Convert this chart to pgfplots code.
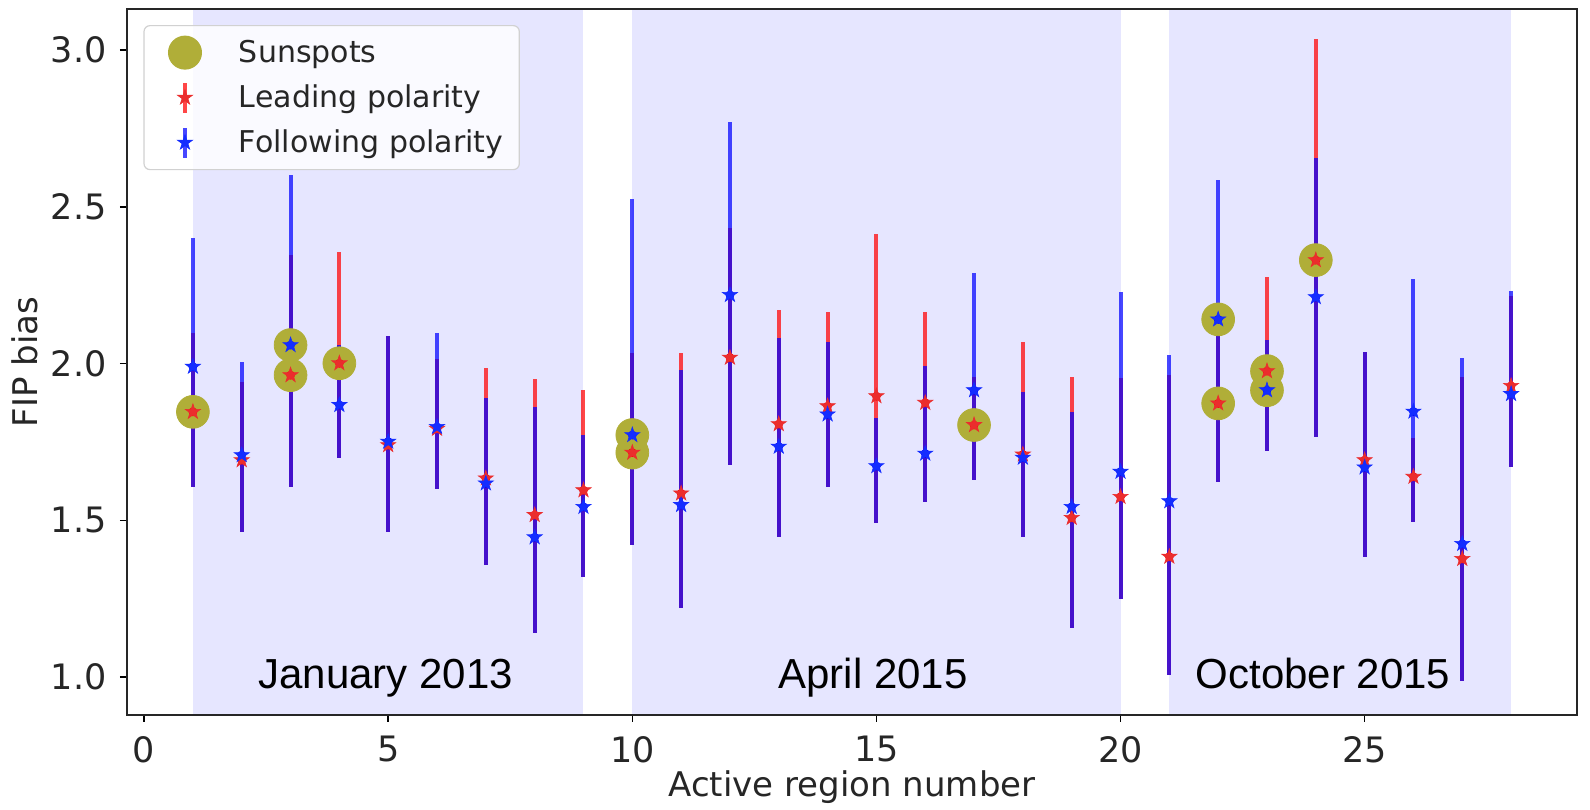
\documentclass[border=0pt]{standalone}
\usepackage{fontspec}
\setmainfont{DejaVu Sans}
\newfontfamily\helv{Liberation Sans}
\usepackage{pgfplots}
\pgfplotsset{compat=1.18}
\usepackage{pgfplotstable}

\definecolor{spanblue}{RGB}{230,230,255}
\definecolor{sunspot}{RGB}{176,174,56}
\definecolor{starred}{RGB}{235,45,45}
\definecolor{starblue}{RGB}{20,45,255}

\pgfdeclareplotmark{fstar}{%
  \pgfpathmoveto{\pgfpointpolar{90}{\pgfplotmarksize}}%
  \pgfpathlineto{\pgfpointpolar{126}{0.382\pgfplotmarksize}}%
  \pgfpathlineto{\pgfpointpolar{162}{\pgfplotmarksize}}%
  \pgfpathlineto{\pgfpointpolar{198}{0.382\pgfplotmarksize}}%
  \pgfpathlineto{\pgfpointpolar{234}{\pgfplotmarksize}}%
  \pgfpathlineto{\pgfpointpolar{270}{0.382\pgfplotmarksize}}%
  \pgfpathlineto{\pgfpointpolar{306}{\pgfplotmarksize}}%
  \pgfpathlineto{\pgfpointpolar{342}{0.382\pgfplotmarksize}}%
  \pgfpathlineto{\pgfpointpolar{18}{\pgfplotmarksize}}%
  \pgfpathlineto{\pgfpointpolar{54}{0.382\pgfplotmarksize}}%
  \pgfpathclose
  \pgfusepathqfillstroke
}

\pgfplotsset{
  legsun/.style={legend image code/.code={%
    \path[draw=none, fill=none] (0bp,-9bp) rectangle (25bp,9bp);
    \draw[##1, fill opacity=1, draw opacity=1] plot coordinates {(12.5bp,0bp)};}},
  legbar/.style={legend image code/.code={%
    \path[draw=none, fill=none] (0bp,-9bp) rectangle (25bp,9bp);
    \draw[line width=2bp, draw=#1, draw opacity=0.72] (12.5bp,-7.5bp) -- (12.5bp,7.5bp);
    \draw[##1, fill opacity=1, draw opacity=1] plot coordinates {(12.5bp,0bp)};}},
}

\pgfplotstableread{
x y lo hi
1 1.846 1.607 2.096
2 1.692 1.463 1.942
3 1.963 1.607 2.346
4 2.001 1.698 2.357
5 1.740 1.463 2.088
6 1.792 1.599 2.013
7 1.634 1.357 1.985
8 1.517 1.139 1.950
9 1.596 1.318 1.915
10 1.716 1.421 2.034
11 1.586 1.219 2.033
12 2.019 1.676 2.433
13 1.807 1.448 2.171
14 1.864 1.607 2.165
15 1.896 1.490 2.413
16 1.875 1.559 2.165
17 1.804 1.628 1.958
18 1.710 1.448 2.068
19 1.508 1.157 1.958
20 1.575 1.248 1.953
21 1.384 1.006 1.964
22 1.873 1.623 2.120
23 1.976 1.720 2.277
24 2.330 1.766 3.035
25 1.692 1.382 2.037
26 1.639 1.496 1.764
27 1.377 0.986 1.958
28 1.929 1.670 2.214
}\leading

\pgfplotstableread{
x y lo hi
1 1.990 1.607 2.399
2 1.708 1.463 2.006
3 2.059 1.607 2.601
4 1.868 1.698 2.059
5 1.751 1.463 2.088
6 1.798 1.599 2.096
7 1.618 1.357 1.889
8 1.446 1.139 1.862
9 1.543 1.318 1.772
10 1.772 1.421 2.524
11 1.549 1.219 1.979
12 2.219 1.676 2.771
13 1.735 1.448 2.083
14 1.838 1.607 2.068
15 1.673 1.490 1.825
16 1.713 1.559 1.993
17 1.915 1.628 2.290
18 1.700 1.448 1.910
19 1.543 1.157 1.846
20 1.655 1.248 2.227
21 1.561 1.006 2.026
22 2.141 1.623 2.585
23 1.915 1.720 2.074
24 2.212 1.766 2.655
25 1.669 1.382 2.037
26 1.847 1.496 2.269
27 1.425 0.986 2.018
28 1.903 1.670 2.233
}\following

\pgfplotstableread{
x y
1 1.846
3 2.059
3 1.963
4 2.001
10 1.772
10 1.716
17 1.804
22 2.141
22 1.873
23 1.976
23 1.915
24 2.330
}\sunspots

\begin{document}
\begin{tikzpicture}
\path[use as bounding box] (-63.5bp,-47.5bp) rectangle (731.5bp,357.5bp);
\begin{axis}[
  at={(0,0)}, anchor=south west,
  scale only axis, width=725bp, height=353bp,
  xmin=-0.35, xmax=29.35, ymin=0.879, ymax=3.131,
  axis on top,
  xtick={0,5,10,15,20,25},
  ytick={1.0,1.5,2.0,2.5,3.0},
  /pgf/number format/assume math mode=true,
  tick align=outside, xtick pos=bottom, ytick pos=left,
  major tick length=3.5bp,
  tick style={black, line width=0.8bp},
  axis line style={black!85, line width=0.9bp},
  tick label style={font=\fontsize{17.5bp}{21bp}\selectfont, text=black!85},
  xticklabel style={anchor=north, inner sep=0pt, yshift=-7bp},
  yticklabel style={anchor=east, inner sep=0pt, xshift=-6.5bp,
    /pgf/number format/fixed, /pgf/number format/fixed zerofill,
    /pgf/number format/precision=1},
  label style={font=\fontsize{17bp}{20bp}\selectfont, text=black!85},
  xlabel={Active region number},
  ylabel={FIP bias},
  xlabel style={at={(axis description cs:0.5,-0.1161)}, anchor=base},
  ylabel style={at={(axis description cs:-0.0614,0.5)}, anchor=base},
  legend cell align=left,
  legend style={
    at={(axis description cs:0.0113,0.9773)}, anchor=north west,
    draw=black!18, line width=0.6bp, rounded corners=3bp,
    fill=white, fill opacity=0.8, text opacity=1,
    inner xsep=8bp, inner ysep=4.5bp,
    row sep=4.5bp, column sep=14.5bp,
    font=\fontsize{15bp}{18bp}\selectfont,
    nodes={inner sep=0pt, text=black!85},
  },
]
% shaded observing periods
\addplot[fill=spanblue, draw=none, forget plot] coordinates {(1,0) (9,0) (9,4) (1,4)} -- cycle;
\addplot[fill=spanblue, draw=none, forget plot] coordinates {(10,0) (20,0) (20,4) (10,4)} -- cycle;
\addplot[fill=spanblue, draw=none, forget plot] coordinates {(21,0) (28,0) (28,4) (21,4)} -- cycle;

% sunspots
\addplot[only marks, mark=*, mark size=8.2bp, color=sunspot,
  mark options={draw=sunspot, fill=sunspot}, legsun] table[x=x, y=y] {\sunspots};
\addlegendentry{Sunspots}

% error bars
\addplot[only marks, mark=none, forget plot, color=red,
  error bars/.cd, y dir=both, y explicit, error mark=none,
  error bar style={line width=2bp, draw=red, draw opacity=0.72}]
  table[x=x, y=y, y error plus expr=\thisrow{hi}-\thisrow{y}, y error minus expr=\thisrow{y}-\thisrow{lo}] {\leading};
\addplot[only marks, mark=none, forget plot, color=blue,
  error bars/.cd, y dir=both, y explicit, error mark=none,
  error bar style={line width=2bp, draw=blue, draw opacity=0.72}]
  table[x=x, y=y, y error plus expr=\thisrow{hi}-\thisrow{y}, y error minus expr=\thisrow{y}-\thisrow{lo}] {\following};

% markers
\addplot[only marks, mark=fstar, mark size=4bp, color=starred,
  mark options={line width=0.3bp, draw=starred, fill=starred}, legbar=red]
  table[x=x, y=y] {\leading};
\addlegendentry{Leading polarity}
\addplot[only marks, mark=fstar, mark size=4bp, color=starblue,
  mark options={line width=0.3bp, draw=starblue, fill=starblue}, legbar=blue]
  table[x=x, y=y] {\following};
\addlegendentry{Following polarity}

\node[font=\helv\fontsize{21bp}{24bp}\selectfont, anchor=base] at (axis cs:4.95,0.965) {January 2013};
\node[font=\helv\fontsize{21bp}{24bp}\selectfont, anchor=base] at (axis cs:14.93,0.965) {April 2015};
\node[font=\helv\fontsize{21bp}{24bp}\selectfont, anchor=base] at (axis cs:24.15,0.965) {October 2015};
\end{axis}
\end{tikzpicture}
\end{document}
